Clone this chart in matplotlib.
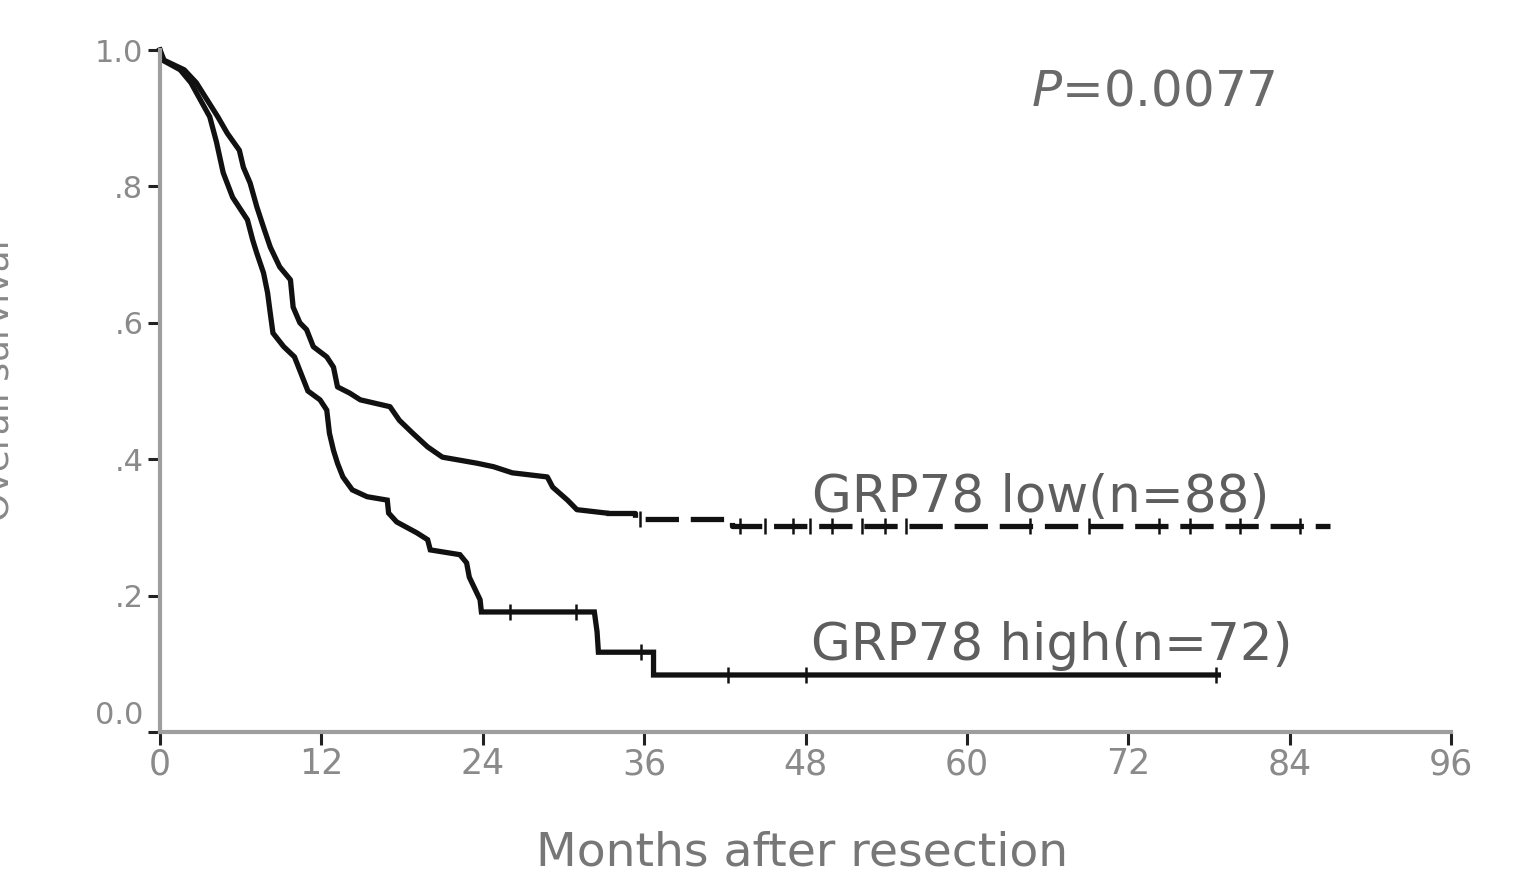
import matplotlib
matplotlib.use('Agg')
import matplotlib.pyplot as plt
from matplotlib.transforms import ScaledTranslation

plt.rcParams['font.family'] = ['DejaVu Sans']
plt.rcParams['lines.scale_dashes'] = False
plt.rcParams['mathtext.fontset'] = 'dejavusans'

# ---------------- data ----------------
x_ticks = [0, 12, 24, 36, 48, 60, 72, 84, 96]
y_ticks = [0.0, 0.2, 0.4, 0.6, 0.8, 1.0]
y_tick_labels = ["0.0", ".2", ".4", ".6", ".8", "1.0"]

# GRP78 high (solid) – traced path of the survival curve
high_t = [0, 0.2, 1.5, 2.3, 3.0, 3.7, 4.2, 4.7, 5.4, 6.5, 6.9, 7.2, 7.7, 8.0, 8.2, 8.4,
          9.2, 10.0, 10.5, 11.0, 11.9, 12.4, 12.6, 12.9, 13.2, 13.6, 14.3, 15.4, 16.9,
          17.0, 17.6, 19.1, 19.9, 20.1, 22.3, 22.8, 23.0, 23.8, 23.9, 32.3, 32.5, 32.6,
          36.7, 36.7, 78.7]
high_s = [1.0, 0.985, 0.971, 0.952, 0.927, 0.902, 0.865, 0.820, 0.784, 0.751, 0.721, 0.702,
          0.673, 0.644, 0.614, 0.585, 0.565, 0.550, 0.525, 0.500, 0.487, 0.472, 0.438, 0.413,
          0.394, 0.374, 0.355, 0.345, 0.340, 0.321, 0.308, 0.292, 0.282, 0.267, 0.260, 0.248,
          0.227, 0.194, 0.176, 0.176, 0.147, 0.117, 0.117, 0.0836, 0.0836]
high_censor_t = [26.0, 30.9, 35.8, 42.2, 48.0, 78.5]

# GRP78 low (dashed)
low_t = [0, 0.3, 1.8, 2.7, 3.5, 4.3, 5.0, 5.9, 6.2, 6.7, 7.2, 7.7, 8.2, 8.9, 9.7, 9.9,
         10.4, 10.9, 11.4, 12.4, 12.9, 13.2, 14.1, 14.9, 17.1, 17.8, 18.8, 19.9, 21.0,
         23.6, 24.8, 26.2, 28.8, 29.2, 30.3, 31.0, 33.2, 35.3, 35.3, 42.5, 42.5, 87.0]
low_s = [1.0, 0.985, 0.971, 0.952, 0.927, 0.902, 0.878, 0.853, 0.828, 0.805, 0.770, 0.740,
         0.711, 0.682, 0.663, 0.623, 0.600, 0.590, 0.565, 0.550, 0.535, 0.506, 0.497, 0.487,
         0.477, 0.457, 0.438, 0.418, 0.403, 0.394, 0.389, 0.380, 0.374, 0.359, 0.340, 0.326,
         0.321, 0.321, 0.313, 0.313, 0.302, 0.302]
low_censor_t = [35.7, 43.1, 45.0, 47.1, 48.3, 50.0, 52.2, 53.9, 55.5, 64.7, 69.1, 74.3,
                76.6, 80.3, 84.8]

label_low = "GRP78 low(n=88)"
label_high = "GRP78 high(n=72)"
p_text = r"$\it{P}$=0.0077"
x_label = "Months after resection"
y_label = "Overall survival"


def value_at(ts, ss, t):
    v = ss[0]
    for ti, si in zip(ts, ss):
        if ti <= t:
            v = si
    return v


fig = plt.figure(figsize=(15.22, 8.73), dpi=100)
ax = fig.add_axes([160 / 1522, 141 / 873, 1291 / 1522, 682 / 873])

lw = 3.8
col = '#111111'
# high curve (solid)
ax.plot(high_t, high_s, color=col, lw=lw, solid_joinstyle='miter', clip_on=False)
ax.plot(high_censor_t, [value_at(high_t, high_s, t) for t in high_censor_t],
        ls='none', marker='|', ms=11, mew=1.8, color=col, clip_on=False)

# low curve: dense early part reads as solid, long flat part shows dashes
split = low_t.index(33.2)
ax.plot(low_t[:split + 1], low_s[:split + 1], color=col, lw=lw, clip_on=False)
ax.plot(low_t[split:], low_s[split:], color=col, lw=lw, dashes=(24, 8.5),
        dash_capstyle='butt', clip_on=False)
ax.plot(low_censor_t, [value_at(low_t, low_s, t) for t in low_censor_t],
        ls='none', marker='|', ms=11, mew=1.8, color=col, clip_on=False)

ax.set_xlim(0, 96)
ax.set_ylim(0, 1.0)
ax.set_xticks(x_ticks)
ax.set_xticklabels([str(v) for v in x_ticks])
ax.set_yticks(y_ticks)
ax.set_yticklabels(y_tick_labels)

for s in ('top', 'right'):
    ax.spines[s].set_visible(False)
for s in ('left', 'bottom'):
    ax.spines[s].set_color('#9e9e9e')
    ax.spines[s].set_linewidth(3)

ax.tick_params(axis='both', direction='out', length=9, width=2.2, color='#222222')
ax.tick_params(axis='y', labelsize=22, labelcolor='#8a8a8a', pad=3)
ax.tick_params(axis='x', labelsize=25, labelcolor='#8a8a8a', pad=2)

# the 0.0 label sits a little above its tick in the original
lab0 = ax.yaxis.get_major_ticks()[0].label1
lab0.set_transform(lab0.get_transform() + ScaledTranslation(0, 0.19, fig.dpi_scale_trans))

ax.text(48.5, 0.323, label_low, fontsize=37, color='#5e5e5e', va='baseline', ha='left')
ax.text(48.4, 0.106, label_high, fontsize=37, color='#5e5e5e', va='baseline', ha='left')
ax.text(64.8, 0.919, p_text, fontsize=36, color='#6a6a6a', va='baseline', ha='left')

fig.text(802 / 1522, 1 - 853 / 873, x_label, fontsize=34, color='#777777',
         ha='center', va='center')
fig.text(16 / 1522, 1 - 380 / 873, y_label, fontsize=26, color='#888888',
         ha='right', va='center', rotation=90)

fig.savefig('out.png', dpi=100, facecolor='white')
